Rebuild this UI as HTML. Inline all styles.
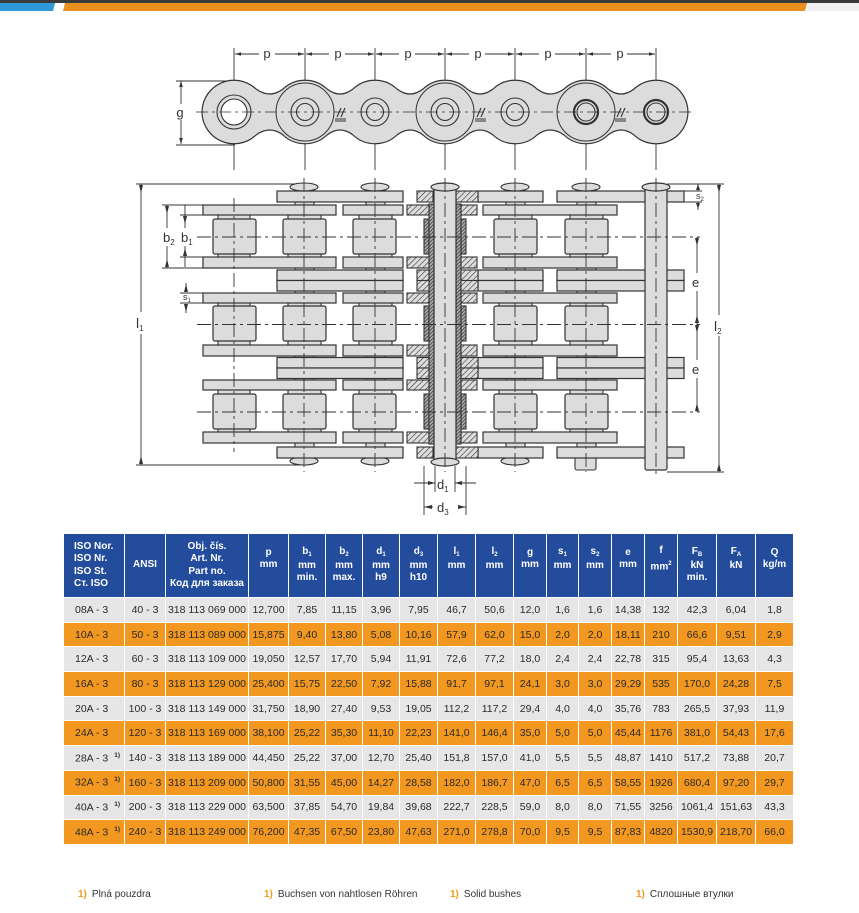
<!DOCTYPE html>
<html><head><meta charset="utf-8">
<style>
html,body{margin:0;padding:0;background:#fff;}
body{width:859px;height:913px;position:relative;overflow:hidden;font-family:"Liberation Sans","DejaVu Sans",sans-serif;}
#bar{position:absolute;left:0;top:0;width:859px;height:11px;}
svg{position:absolute;left:0;top:0;}
table{position:absolute;left:63px;top:533px;border-collapse:collapse;table-layout:fixed;width:730px;}
td,th{border:1.5px solid #fff;padding:0;text-align:center;font-size:10.5px;color:#2a2a2a;white-space:nowrap;overflow:hidden;}
th{background:#234c9c;color:#fff;font-weight:bold;height:63px;line-height:12.5px;vertical-align:middle;font-size:10px;}
th.l{text-align:left;padding-left:10px;}
td{height:23.7px;}
td.l{text-align:left;padding-left:11px;}
tr.g td{background:#e6e6e7;}
tr.o td{background:#f2971f;}
th sub{font-size:6px;vertical-align:baseline;position:relative;top:2px;}
th sup{font-size:6px;}
td sup{font-size:6.5px;font-weight:bold;margin-left:6px;}
.fn{position:absolute;top:889px;font-size:10px;color:#333;}
.fn b{color:#f29a1f;margin-right:5px;}
</style></head><body>
<svg id="bar" width="859" height="11">
<rect x="0" y="0" width="859" height="11" fill="#fff"/>
<rect x="0" y="0" width="859" height="3" fill="#3a3a3a"/>
<polygon points="0,3 55,3 53,11 0,11" fill="#2f98d6"/>
<polygon points="65,3 807,3 805,11 63,11" fill="#e88f1e"/>
<rect x="807" y="3" width="52" height="8" fill="#f0f0f0"/>
</svg>
<svg width="859" height="530" viewBox="0 0 859 530" style="top:0">
<defs>
<pattern id="h" width="4" height="4" patternUnits="userSpaceOnUse" patternTransform="rotate(45)"><rect width="4" height="4" fill="#ddd"/><line x1="0" y1="0" x2="0" y2="4" stroke="#333" stroke-width="1.2"/></pattern>
<pattern id="hd" width="2.5" height="2.5" patternUnits="userSpaceOnUse" patternTransform="rotate(45)"><rect width="3" height="3" fill="#aaa"/><line x1="0" y1="0" x2="0" y2="3" stroke="#222" stroke-width="1.2"/></pattern>
<marker id="a" viewBox="0 0 10 6" refX="10" refY="3" markerWidth="8" markerHeight="4" orient="auto-start-reverse"><path d="M0,0 L10,3 L0,6 z" fill="#333"/></marker>
</defs>
<g stroke="#333" fill="none" stroke-width="0.9">
<line x1="234" y1="48" x2="234" y2="170"/>
<line x1="305" y1="48" x2="305" y2="170"/>
<line x1="375" y1="48" x2="375" y2="170"/>
<line x1="445" y1="48" x2="445" y2="170"/>
<line x1="515" y1="48" x2="515" y2="170"/>
<line x1="586" y1="48" x2="586" y2="170"/>
<line x1="656" y1="48" x2="656" y2="170"/>
<g marker-start="url(#a)" marker-end="url(#a)">
<line x1="235" y1="54" x2="304" y2="54"/>
<line x1="306" y1="54" x2="374" y2="54"/>
<line x1="376" y1="54" x2="444" y2="54"/>
<line x1="446" y1="54" x2="514" y2="54"/>
<line x1="516" y1="54" x2="585" y2="54"/>
<line x1="587" y1="54" x2="655" y2="54"/>
<line x1="181" y1="81" x2="181" y2="144"/>
</g>
<line x1="176" y1="81" x2="235" y2="81"/>
<line x1="176" y1="145" x2="235" y2="145"/>
</g>
<g fill="#fff">
<rect x="259" y="46" width="16" height="14"/><rect x="329" y="46" width="16" height="14"/><rect x="399" y="46" width="16" height="14"/><rect x="469" y="46" width="16" height="14"/><rect x="539" y="46" width="16" height="14"/><rect x="611" y="46" width="16" height="14"/>
<rect x="174" y="104" width="14" height="16"/>
</g>
<g fill="#333" font-size="13" font-family="Liberation Sans,sans-serif" text-anchor="middle">
<text x="267" y="58">p</text><text x="338" y="58">p</text><text x="408" y="58">p</text><text x="478" y="58">p</text><text x="548" y="58">p</text><text x="620" y="58">p</text>
<text x="180" y="117">g</text>
</g>
<path d="M202,112 A32,32 0 0 1 256,89 Q270,99 283,89 A32,32 0 0 1 327,89 Q340,99 353,89 A32,32 0 0 1 397,89 Q410,99 423,89 A32,32 0 0 1 467,89 Q480,99 493,89 A32,32 0 0 1 537,89 Q550,99 564,89 A32,32 0 0 1 608,89 Q621,99 634,89 A32,32 0 0 1 688,112 A32,32 0 0 1 634,135 Q621,125 608,135 A32,32 0 0 1 564,135 Q550,125 537,135 A32,32 0 0 1 493,135 Q480,125 467,135 A32,32 0 0 1 423,135 Q410,125 397,135 A32,32 0 0 1 353,135 Q340,125 327,135 A32,32 0 0 1 283,135 Q270,125 256,135 A32,32 0 0 1 202,112 Z" fill="#dcdcdc" stroke="#333" stroke-width="1.2"/>
<g fill="none" stroke="#333" stroke-width="1">
<circle cx="305" cy="112" r="29"/><circle cx="445" cy="112" r="29"/><circle cx="586" cy="112" r="29"/>
</g>
<circle cx="234" cy="112" r="17" fill="#dcdcdc" stroke="#333" stroke-width="1.1"/>
<circle cx="234" cy="112" r="13" fill="#fff" stroke="#333" stroke-width="1.1"/>
<g fill="#dcdcdc" stroke="#333" stroke-width="1.1">
<circle cx="305" cy="112" r="14"/><circle cx="305" cy="112" r="8.5"/>
<circle cx="375" cy="112" r="14"/><circle cx="375" cy="112" r="8.5"/>
<circle cx="445" cy="112" r="14"/><circle cx="445" cy="112" r="8.5"/>
<circle cx="515" cy="112" r="14"/><circle cx="515" cy="112" r="8.5"/>
<circle cx="586" cy="112" r="12" stroke-width="2.2"/><circle cx="586" cy="112" r="9"/>
<circle cx="656" cy="112" r="12" stroke-width="2.2"/><circle cx="656" cy="112" r="9"/>
</g>
<g stroke="#333" stroke-width="0.8" stroke-dasharray="12,4,3,4">
<line x1="196" y1="112" x2="692" y2="112"/>
</g>
<g stroke="#333" stroke-width="1.1" fill="none">
<path d="M337,117 l4,-9 M341,117 l4,-9 M335,119 h11 M335,121 h11"/>
<path d="M477,117 l4,-9 M481,117 l4,-9 M475,119 h11 M475,121 h11"/>
<path d="M617,117 l4,-9 M621,117 l4,-9 M615,119 h11 M615,121 h11"/>
</g>

<g stroke="#333" stroke-width="0.9" fill="none">
<line x1="136" y1="184" x2="300" y2="184"/>
<line x1="136" y1="465" x2="300" y2="465"/>
<line x1="162" y1="205" x2="205" y2="205"/>
<line x1="162" y1="268" x2="205" y2="268"/>
<line x1="180" y1="215" x2="205" y2="215"/>
<line x1="180" y1="257" x2="205" y2="257"/>
<line x1="180" y1="293" x2="205" y2="293"/>
<line x1="180" y1="303" x2="205" y2="303"/>
<line x1="141" y1="184" x2="141" y2="312"/><line x1="141" y1="334" x2="141" y2="465"/>
<line x1="167" y1="205" x2="167" y2="228"/><line x1="167" y1="246" x2="167" y2="268"/>
<line x1="185" y1="205" x2="185" y2="228"/><line x1="185" y1="246" x2="185" y2="267"/>
<line x1="186" y1="283" x2="186" y2="290"/><line x1="186" y1="306" x2="186" y2="313"/>
<line x1="667" y1="184" x2="724" y2="184"/>
<line x1="667" y1="472" x2="724" y2="472"/>
<line x1="684" y1="191" x2="702" y2="191"/>
<line x1="684" y1="202" x2="702" y2="202"/>
<line x1="719" y1="184" x2="719" y2="315"/><line x1="719" y1="336" x2="719" y2="472"/>
<line x1="698" y1="184" x2="698" y2="191"/><line x1="698" y1="202" x2="698" y2="210"/>
<line x1="697" y1="237" x2="697" y2="273"/><line x1="697" y1="291" x2="697" y2="324"/>
<line x1="697" y1="324" x2="697" y2="360"/><line x1="697" y1="378" x2="697" y2="412"/>
<line x1="424" y1="466" x2="424" y2="515"/><line x1="466" y1="466" x2="466" y2="515"/>
<line x1="435" y1="466" x2="435" y2="492"/><line x1="455" y1="466" x2="455" y2="492"/>
<line x1="414" y1="483" x2="435" y2="483"/><line x1="455" y1="483" x2="476" y2="483"/>
<line x1="424" y1="507" x2="433" y2="507"/><line x1="458" y1="507" x2="466" y2="507"/>
</g>
<g fill="#333">
<path d="M139,185 l2,8 l2,-8z M139,464 l2,-8 l2,8z M165,206 l2,8 l2,-8z M165,267 l2,-8 l2,8z M183,216 l2,8 l2,-8z M183,256 l2,-8 l2,8z M184,292 l2,-8 l2,8z M184,304 l2,8 l2,-8z"/>
<path d="M717,185 l2,8 l2,-8z M717,471 l2,-8 l2,8z M696,190 l2,-6 l2,6z M696,203 l2,6 l2,-6z M695,238 l2,8 l2,-8z M695,323 l2,-8 l2,8z M695,325 l2,8 l2,-8z M695,411 l2,-8 l2,8z"/>
<path d="M435,483 l-7,-2 v4z M455,483 l7,-2 v4z M424,507 l8,-2 v4z M466,507 l-8,-2 v4z"/>
</g>
<g fill="#333" font-family="Liberation Sans,sans-serif">
<text x="136" y="328" font-size="14">l<tspan font-size="8" dy="3">1</tspan></text>
<text x="163" y="242" font-size="13">b<tspan font-size="8" dy="3">2</tspan></text>
<text x="181" y="242" font-size="13">b<tspan font-size="8" dy="3">1</tspan></text>
<text x="183" y="300" font-size="9">s<tspan font-size="6" dy="2">1</tspan></text>
<text x="696" y="199" font-size="9">s<tspan font-size="6" dy="2">2</tspan></text>
<text x="714" y="331" font-size="14">l<tspan font-size="8" dy="3">2</tspan></text>
<text x="692" y="287" font-size="13">e</text>
<text x="692" y="374" font-size="13">e</text>
<text x="437" y="489" font-size="13">d<tspan font-size="8" dy="3">1</tspan></text>
<text x="437" y="512" font-size="13">d<tspan font-size="8" dy="3">3</tspan></text>
</g>

<!-- pins & bushes behind -->
<g fill="#dcdcdc" stroke="#333" stroke-width="1.1">
<rect x="295" y="188" width="19" height="272"/>
<rect x="366" y="188" width="19" height="272"/>
<rect x="506" y="188" width="19" height="272"/>
<rect x="577" y="188" width="19" height="272"/>
<rect x="575" y="455" width="21" height="15" rx="2"/>
<ellipse cx="304" cy="187" rx="14" ry="4"/><ellipse cx="375" cy="187" rx="14" ry="4"/><ellipse cx="515" cy="187" rx="14" ry="4"/><ellipse cx="586" cy="187" rx="14" ry="4"/>
<ellipse cx="304" cy="461" rx="14" ry="4"/><ellipse cx="375" cy="461" rx="14" ry="4"/><ellipse cx="515" cy="461" rx="14" ry="4"/>
<!-- bush stubs per strand -->
<rect x="218" y="212" width="32" height="50"/><rect x="288" y="212" width="33" height="50"/><rect x="359" y="212" width="33" height="50"/><rect x="499" y="212" width="33" height="50"/><rect x="570" y="212" width="33" height="50"/>
<rect x="218" y="300" width="32" height="50"/><rect x="288" y="300" width="33" height="50"/><rect x="359" y="300" width="33" height="50"/><rect x="499" y="300" width="33" height="50"/><rect x="570" y="300" width="33" height="50"/>
<rect x="218" y="387" width="32" height="50"/><rect x="288" y="387" width="33" height="50"/><rect x="359" y="387" width="33" height="50"/><rect x="499" y="387" width="33" height="50"/><rect x="570" y="387" width="33" height="50"/>
</g>
<g fill="#dcdcdc" stroke="#333" stroke-width="1.2">
<rect x="203" y="205" width="133" height="10"/><rect x="343" y="205" width="60" height="10"/><rect x="483" y="205" width="134" height="10"/>
<rect x="203" y="257" width="133" height="11"/><rect x="343" y="257" width="60" height="11"/><rect x="483" y="257" width="134" height="11"/>
<rect x="213" y="219" width="43" height="35" rx="2"/><rect x="283" y="219" width="43" height="35" rx="2"/><rect x="353" y="219" width="43" height="35" rx="2"/><rect x="494" y="219" width="43" height="35" rx="2"/><rect x="565" y="219" width="43" height="35" rx="2"/>
<rect x="203" y="293" width="133" height="10"/><rect x="343" y="293" width="60" height="10"/><rect x="483" y="293" width="134" height="10"/>
<rect x="203" y="345" width="133" height="11"/><rect x="343" y="345" width="60" height="11"/><rect x="483" y="345" width="134" height="11"/>
<rect x="213" y="306" width="43" height="35" rx="2"/><rect x="283" y="306" width="43" height="35" rx="2"/><rect x="353" y="306" width="43" height="35" rx="2"/><rect x="494" y="306" width="43" height="35" rx="2"/><rect x="565" y="306" width="43" height="35" rx="2"/>
<rect x="203" y="380" width="133" height="10"/><rect x="343" y="380" width="60" height="10"/><rect x="483" y="380" width="134" height="10"/>
<rect x="203" y="432" width="133" height="11"/><rect x="343" y="432" width="60" height="11"/><rect x="483" y="432" width="134" height="11"/>
<rect x="213" y="394" width="43" height="35" rx="2"/><rect x="283" y="394" width="43" height="35" rx="2"/><rect x="353" y="394" width="43" height="35" rx="2"/><rect x="494" y="394" width="43" height="35" rx="2"/><rect x="565" y="394" width="43" height="35" rx="2"/>
<rect x="277" y="191" width="126" height="11"/><rect x="478" y="191" width="65" height="11"/><rect x="557" y="191" width="127" height="11"/>
<rect x="277" y="270" width="126" height="10.5"/><rect x="277" y="280.5" width="126" height="10.5"/>
<rect x="478" y="270" width="65" height="10.5"/><rect x="478" y="280.5" width="65" height="10.5"/>
<rect x="557" y="270" width="127" height="10.5"/><rect x="557" y="280.5" width="127" height="10.5"/>
<rect x="277" y="357.5" width="126" height="10.5"/><rect x="277" y="368" width="126" height="10.5"/>
<rect x="478" y="357.5" width="65" height="10.5"/><rect x="478" y="368" width="65" height="10.5"/>
<rect x="557" y="357.5" width="127" height="10.5"/><rect x="557" y="368" width="127" height="10.5"/>
<rect x="277" y="447" width="126" height="11"/><rect x="478" y="447" width="65" height="11"/><rect x="557" y="447" width="127" height="11"/>
</g>
<g fill="url(#h)" stroke="#333" stroke-width="1.1">
<rect x="417" y="191" width="16" height="11"/><rect x="455" y="191" width="23" height="11"/>
<rect x="417" y="270" width="16" height="10.5"/><rect x="417" y="280.5" width="16" height="10.5"/><rect x="455" y="270" width="23" height="10.5"/><rect x="455" y="280.5" width="23" height="10.5"/>
<rect x="417" y="357.5" width="16" height="10.5"/><rect x="417" y="368" width="16" height="10.5"/><rect x="455" y="357.5" width="23" height="10.5"/><rect x="455" y="368" width="23" height="10.5"/>
<rect x="417" y="447" width="16" height="11"/><rect x="455" y="447" width="23" height="11"/>
<rect x="407" y="205" width="22" height="10"/><rect x="461" y="205" width="16" height="10"/>
<rect x="407" y="257" width="22" height="11"/><rect x="461" y="257" width="16" height="11"/>
<rect x="407" y="293" width="22" height="10"/><rect x="461" y="293" width="16" height="10"/>
<rect x="407" y="345" width="22" height="11"/><rect x="461" y="345" width="16" height="11"/>
<rect x="407" y="380" width="22" height="10"/><rect x="461" y="380" width="16" height="10"/>
<rect x="407" y="432" width="22" height="11"/><rect x="461" y="432" width="16" height="11"/>
</g>
<g fill="url(#hd)" stroke="#333" stroke-width="1.1">
<rect x="424" y="219" width="5" height="35"/><rect x="461" y="219" width="5" height="35"/>
<rect x="424" y="306" width="5" height="35"/><rect x="461" y="306" width="5" height="35"/>
<rect x="424" y="394" width="5" height="35"/><rect x="461" y="394" width="5" height="35"/>
<rect x="429" y="204" width="5" height="240"/><rect x="456" y="204" width="5" height="240"/>
</g>
<g fill="#dcdcdc" stroke="#333" stroke-width="1.2">
<rect x="434" y="186" width="22" height="278"/>
<ellipse cx="445" cy="187" rx="14" ry="4"/><ellipse cx="445" cy="462" rx="14" ry="4"/>
<rect x="645" y="188" width="22" height="282" rx="2"/>
<ellipse cx="656" cy="187" rx="14" ry="4"/>
</g>
<g stroke="#333" stroke-width="0.9" stroke-dasharray="14,4,3,4" fill="none">
<line x1="197" y1="237" x2="700" y2="237"/>
<line x1="197" y1="324.5" x2="700" y2="324.5"/>
<line x1="197" y1="412" x2="700" y2="412"/>
<line x1="234" y1="198" x2="234" y2="452"/>
<line x1="304" y1="178" x2="304" y2="472"/>
<line x1="375" y1="178" x2="375" y2="472"/>
<line x1="445" y1="178" x2="445" y2="472"/>
<line x1="515" y1="178" x2="515" y2="472"/>
<line x1="586" y1="178" x2="586" y2="472"/>
<line x1="656" y1="178" x2="656" y2="478"/>
</g>
</svg>

<table>
<colgroup><col style="width:61px"><col style="width:41px"><col style="width:83px"><col style="width:40px"><col style="width:37px"><col style="width:37px"><col style="width:37px"><col style="width:38px"><col style="width:38px"><col style="width:38px"><col style="width:33px"><col style="width:32px"><col style="width:33px"><col style="width:33px"><col style="width:33px"><col style="width:39px"><col style="width:39px"><col style="width:38px"></colgroup>
<tr><th class="l">ISO Nor.<br>ISO Nr.<br>ISO St.<br>Ст. ISO</th><th>ANSI</th><th>Obj. čís.<br>Art. Nr.<br>Part no.<br>Код для заказа</th><th>p<br>mm<br><br></th><th>b<sub>1</sub><br>mm<br>min.</th><th>b<sub>2</sub><br>mm<br>max.</th><th>d<sub>1</sub><br>mm<br>h9</th><th>d<sub>3</sub><br>mm<br>h10</th><th>l<sub>1</sub><br>mm<br><br></th><th>l<sub>2</sub><br>mm<br><br></th><th>g<br>mm<br><br></th><th>s<sub>1</sub><br>mm<br><br></th><th>s<sub>2</sub><br>mm<br><br></th><th>e<br>mm<br><br></th><th>f<br>mm<sup>2</sup><br><br></th><th>F<sub>B</sub><br>kN<br>min.</th><th>F<sub>A</sub><br>kN<br><br></th><th>Q<br>kg/m<br><br></th></tr>
<tr class="g"><td class="l">08A - 3</td><td>40 - 3</td><td>318 113 069 000</td><td>12,700</td><td>7,85</td><td>11,15</td><td>3,96</td><td>7,95</td><td>46,7</td><td>50,6</td><td>12,0</td><td>1,6</td><td>1,6</td><td>14,38</td><td>132</td><td>42,3</td><td>6,04</td><td>1,8</td></tr>
<tr class="o"><td class="l">10A - 3</td><td>50 - 3</td><td>318 113 089 000</td><td>15,875</td><td>9,40</td><td>13,80</td><td>5,08</td><td>10,16</td><td>57,9</td><td>62,0</td><td>15,0</td><td>2,0</td><td>2,0</td><td>18,11</td><td>210</td><td>66,6</td><td>9,51</td><td>2,9</td></tr>
<tr class="g"><td class="l">12A - 3</td><td>60 - 3</td><td>318 113 109 000</td><td>19,050</td><td>12,57</td><td>17,70</td><td>5,94</td><td>11,91</td><td>72,6</td><td>77,2</td><td>18,0</td><td>2,4</td><td>2,4</td><td>22,78</td><td>315</td><td>95,4</td><td>13,63</td><td>4,3</td></tr>
<tr class="o"><td class="l">16A - 3</td><td>80 - 3</td><td>318 113 129 000</td><td>25,400</td><td>15,75</td><td>22,50</td><td>7,92</td><td>15,88</td><td>91,7</td><td>97,1</td><td>24,1</td><td>3,0</td><td>3,0</td><td>29,29</td><td>535</td><td>170,0</td><td>24,28</td><td>7,5</td></tr>
<tr class="g"><td class="l">20A - 3</td><td>100 - 3</td><td>318 113 149 000</td><td>31,750</td><td>18,90</td><td>27,40</td><td>9,53</td><td>19,05</td><td>112,2</td><td>117,2</td><td>29,4</td><td>4,0</td><td>4,0</td><td>35,76</td><td>783</td><td>265,5</td><td>37,93</td><td>11,9</td></tr>
<tr class="o"><td class="l">24A - 3</td><td>120 - 3</td><td>318 113 169 000</td><td>38,100</td><td>25,22</td><td>35,30</td><td>11,10</td><td>22,23</td><td>141,0</td><td>146,4</td><td>35,0</td><td>5,0</td><td>5,0</td><td>45,44</td><td>1176</td><td>381,0</td><td>54,43</td><td>17,6</td></tr>
<tr class="g"><td class="l">28A - 3<sup>1)</sup></td><td>140 - 3</td><td>318 113 189 000</td><td>44,450</td><td>25,22</td><td>37,00</td><td>12,70</td><td>25,40</td><td>151,8</td><td>157,0</td><td>41,0</td><td>5,5</td><td>5,5</td><td>48,87</td><td>1410</td><td>517,2</td><td>73,88</td><td>20,7</td></tr>
<tr class="o"><td class="l">32A - 3<sup>1)</sup></td><td>160 - 3</td><td>318 113 209 000</td><td>50,800</td><td>31,55</td><td>45,00</td><td>14,27</td><td>28,58</td><td>182,0</td><td>186,7</td><td>47,0</td><td>6,5</td><td>6,5</td><td>58,55</td><td>1926</td><td>680,4</td><td>97,20</td><td>29,7</td></tr>
<tr class="g"><td class="l">40A - 3<sup>1)</sup></td><td>200 - 3</td><td>318 113 229 000</td><td>63,500</td><td>37,85</td><td>54,70</td><td>19,84</td><td>39,68</td><td>222,7</td><td>228,5</td><td>59,0</td><td>8,0</td><td>8,0</td><td>71,55</td><td>3256</td><td>1061,4</td><td>151,63</td><td>43,3</td></tr>
<tr class="o"><td class="l">48A - 3<sup>1)</sup></td><td>240 - 3</td><td>318 113 249 000</td><td>76,200</td><td>47,35</td><td>67,50</td><td>23,80</td><td>47,63</td><td>271,0</td><td>278,8</td><td>70,0</td><td>9,5</td><td>9,5</td><td>87,83</td><td>4820</td><td>1530,9</td><td>218,70</td><td>66,0</td></tr>
</table>

<div class="fn" style="left:78px"><b>1)</b>Plná pouzdra</div>
<div class="fn" style="left:264px"><b>1)</b>Buchsen von nahtlosen Röhren</div>
<div class="fn" style="left:450px"><b>1)</b>Solid bushes</div>
<div class="fn" style="left:636px"><b>1)</b>Сплошные втулки</div>
</body></html>
